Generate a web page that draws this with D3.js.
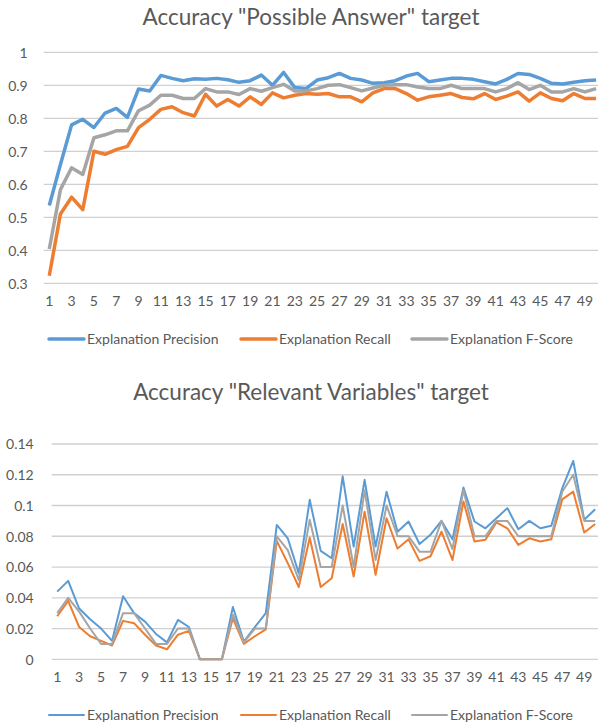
<!DOCTYPE html>
<html>
<head>
<meta charset="utf-8">
<script src="https://cdn.jsdelivr.net/npm/d3@7"></script>
<style>
  body { margin: 0; background: #fff; }
  svg text { font-family: Lato, "Open Sans", sans-serif; fill: #595959; }
</style>
</head>
<body>
<div id="chart"></div>
<script>
// x categories (runs 1..50)
const categories = d3.range(1, 51);
const seriesNames = ["Explanation Precision", "Explanation Recall", "Explanation F-Score"];
const seriesColors = ["#5B9BD5", "#ED7D31", "#A5A5A5"];

// top chart: "Possible Answer" target
const answerPrecision = [0.536, 0.66, 0.78, 0.797, 0.772, 0.816, 0.83, 0.803, 0.889, 0.883,
    0.93, 0.921, 0.914, 0.92, 0.918, 0.921, 0.917, 0.909, 0.914, 0.931,
    0.9, 0.939, 0.893, 0.89, 0.916, 0.923, 0.936, 0.921, 0.916, 0.906,
    0.908, 0.914, 0.928, 0.936, 0.911, 0.916, 0.921, 0.921, 0.918, 0.911,
    0.904, 0.918, 0.936, 0.933, 0.921, 0.906, 0.904, 0.909, 0.914, 0.916];
const answerRecall = [0.323, 0.51, 0.561, 0.523, 0.7, 0.691, 0.705, 0.715, 0.772, 0.797,
    0.827, 0.835, 0.817, 0.807, 0.873, 0.837, 0.857, 0.837, 0.865, 0.842,
    0.877, 0.862, 0.87, 0.875, 0.873, 0.875, 0.865, 0.865, 0.85, 0.877,
    0.89, 0.89, 0.875, 0.855, 0.865, 0.87, 0.875, 0.863, 0.859, 0.875,
    0.857, 0.867, 0.88, 0.852, 0.877, 0.86, 0.853, 0.875, 0.86, 0.86];
const answerFScore = [0.404, 0.584, 0.65, 0.63, 0.741, 0.75, 0.762, 0.762, 0.823, 0.84,
    0.87, 0.87, 0.86, 0.86, 0.89, 0.88, 0.88, 0.872, 0.89, 0.882,
    0.893, 0.903, 0.883, 0.883, 0.89, 0.9, 0.902, 0.893, 0.883, 0.892,
    0.9, 0.902, 0.902, 0.895, 0.89, 0.89, 0.9, 0.89, 0.89, 0.89,
    0.88, 0.89, 0.908, 0.887, 0.9, 0.88, 0.88, 0.89, 0.88, 0.89];
const answerTicks = [0.3, 0.4, 0.5, 0.6, 0.7, 0.8, 0.9, 1];

// bottom chart: "Relevant Variables" target
const varsPrecision = [0.044, 0.051, 0.033, 0.026, 0.02, 0.012, 0.041, 0.03, 0.0245, 0.0165,
    0.011, 0.0256, 0.021, 0, 0, 0, 0.034, 0.0115, 0.021, 0.03,
    0.0874, 0.0787, 0.056, 0.1037, 0.0705, 0.0657, 0.119, 0.0733, 0.1167, 0.0733,
    0.109, 0.083, 0.0896, 0.075, 0.081, 0.09, 0.078, 0.1117, 0.0896, 0.0852,
    0.0917, 0.0983, 0.0846, 0.09, 0.0852, 0.0868, 0.1113, 0.129, 0.0907, 0.0976];
const varsRecall = [0.028, 0.038, 0.021, 0.015, 0.012, 0.009, 0.025, 0.0235, 0.016, 0.009,
    0.0065, 0.016, 0.0185, 0, 0, 0, 0.0267, 0.01, 0.015, 0.0195,
    0.077, 0.0625, 0.047, 0.079, 0.047, 0.0527, 0.088, 0.0538, 0.096, 0.055,
    0.0917, 0.072, 0.078, 0.064, 0.067, 0.083, 0.0646, 0.1026, 0.0766, 0.0777,
    0.089, 0.0852, 0.0744, 0.0787, 0.0766, 0.078, 0.104, 0.109, 0.0824, 0.088];
const varsFScore = [0.03, 0.04, 0.031, 0.02, 0.01, 0.01, 0.03, 0.03, 0.02, 0.01,
    0.01, 0.02, 0.02, 0, 0, 0, 0.029, 0.011, 0.02, 0.02,
    0.08, 0.071, 0.0516, 0.0907, 0.06, 0.06, 0.1, 0.06, 0.11, 0.0646,
    0.1, 0.08, 0.08, 0.07, 0.07, 0.09, 0.0716, 0.11, 0.08, 0.08,
    0.09, 0.09, 0.08, 0.08, 0.08, 0.08, 0.109, 0.12, 0.09, 0.09];
const varsTicks = [0, 0.02, 0.04, 0.06, 0.08, 0.1, 0.12, 0.14];

const width = 598, height = 723;
const svg = d3.select("#chart").append("svg")
    .attr("width", width)
    .attr("height", height);

function drawChart(opt) {
    let g = svg.append("g");

    let x = d3.scaleBand()
        .domain(categories)
        .range([opt.left, opt.left + categories.length * opt.step])
        .padding(0);
    let y = d3.scaleLinear()
        .domain(d3.extent(opt.ticks))
        .range([opt.bottom, opt.top]);
    let cx = d => x(d) + x.bandwidth() / 2;

    g.append("text")
        .attr("x", 311)
        .attr("y", opt.titleY)
        .attr("text-anchor", "middle")
        .style("font-size", "22.5px")
        .text(opt.title);

    // horizontal gridlines
    g.append("g")
        .selectAll("line")
        .data(opt.ticks)
        .enter()
        .append("line")
        .attr("x1", opt.left)
        .attr("x2", width)
        .attr("y1", d => y(d))
        .attr("y2", d => y(d))
        .style("stroke", "#d0d0d0")
        .style("stroke-width", 1.3);

    let yAxis = d3.axisLeft(y)
        .tickValues(opt.ticks)
        .tickSize(0)
        .tickFormat(d => String(+d.toFixed(2)));
    let ya = g.append("g")
        .attr("transform", "translate(" + (opt.left - opt.labelGap) + ",0)")
        .call(yAxis);
    ya.select(".domain").remove();
    ya.selectAll("text").style("font-size", "14px").attr("dy", "0.35em");

    let xAxis = d3.axisBottom(x)
        .tickValues(categories.filter(c => c % 2 === 1))
        .tickSize(0);
    let xa = g.append("g")
        .attr("transform", "translate(0," + opt.bottom + ")")
        .call(xAxis);
    xa.select(".domain").remove();
    xa.selectAll("text").style("font-size", "14px").attr("y", 13).attr("dy", "0.71em");

    let line = d3.line()
        .x((d, i) => cx(categories[i]))
        .y(d => y(d));

    g.append("g")
        .selectAll("path")
        .data(opt.series)
        .enter()
        .append("path")
        .attr("d", d => line(d))
        .style("fill", "none")
        .style("stroke", (d, i) => seriesColors[i])
        .style("stroke-width", opt.lineWidth)
        .style("stroke-linejoin", "round");

    // legend
    let legendX = [49, 241, 412];
    let leg = g.append("g")
        .selectAll("g")
        .data(seriesNames)
        .enter()
        .append("g")
        .attr("transform", (d, i) => "translate(" + legendX[i] + "," + opt.legendY + ")");
    leg.append("line")
        .attr("x1", 0).attr("x2", 35)
        .style("stroke", (d, i) => seriesColors[i])
        .style("stroke-width", opt.lineWidth)
        .style("stroke-linecap", "round");
    leg.append("text")
        .attr("x", 38)
        .attr("dy", "0.35em")
        .style("font-size", "14px")
        .text(d => d);
}

drawChart({
    title: 'Accuracy "Possible Answer" target',
    titleY: 25,
    series: [answerPrecision, answerRecall, answerFScore],
    ticks: answerTicks,
    left: 43.7, step: 11.16,
    top: 52.3, bottom: 283.3,
    labelGap: 13,
    legendY: 339,
    lineWidth: 3.5
});

drawChart({
    title: 'Accuracy "Relevant Variables" target',
    titleY: 400,
    series: [varsPrecision, varsRecall, varsFScore],
    ticks: varsTicks,
    left: 51.7, step: 10.98,
    top: 444, bottom: 659.3,
    labelGap: 15,
    legendY: 715,
    lineWidth: 2
});
</script>
</body>
</html>
